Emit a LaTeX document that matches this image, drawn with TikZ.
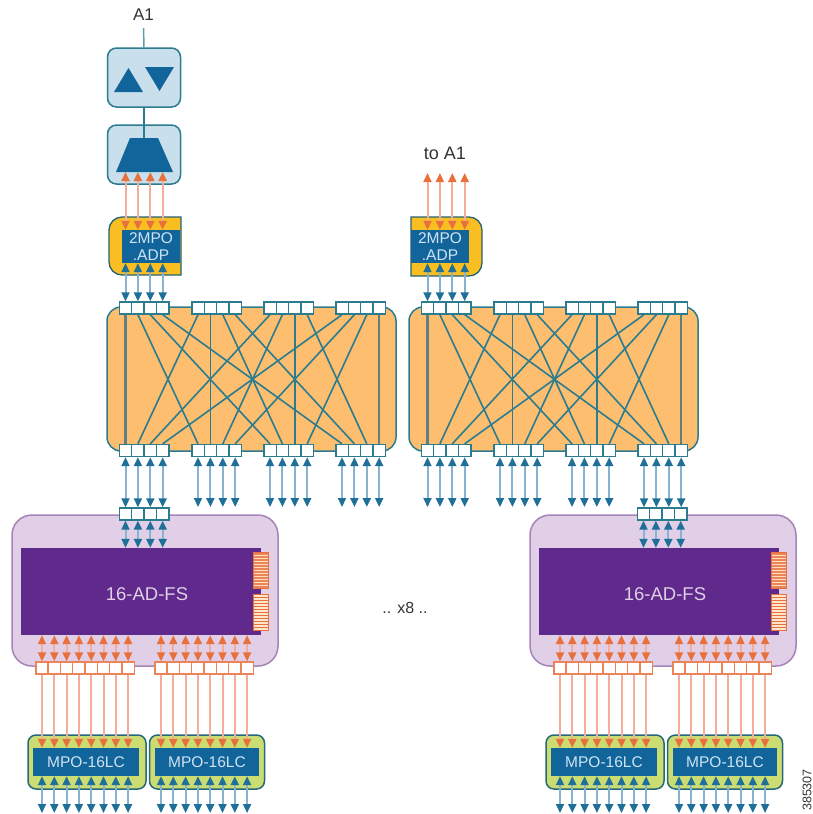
\documentclass[tikz,border=0pt]{standalone}
\usepackage{fontspec}
\setmainfont{Liberation Sans}
\usetikzlibrary{arrows.meta}
\definecolor{tealline}{HTML}{2B7C8F}
\definecolor{bluetip}{HTML}{1F6F98}
\definecolor{blueline}{HTML}{86B4CE}
\definecolor{orangetip}{HTML}{E8703C}
\definecolor{orangeline}{HTML}{F2AE9A}
\definecolor{muxfill}{HTML}{C9DFEB}
\definecolor{muxblue}{HTML}{12659B}
\definecolor{shufflefill}{HTML}{FDBE6F}
\definecolor{adpyellow}{HTML}{F9BE22}
\definecolor{fslight}{HTML}{E0CFE6}
\definecolor{fsborder}{HTML}{A584B8}
\definecolor{fsdark}{HTML}{5F2A8C}
\definecolor{mpogreen}{HTML}{CBDD72}
\definecolor{labelblue}{HTML}{CFE4F2}
\definecolor{textgray}{HTML}{333333}
\tikzset{
tipb/.tip={Triangle[length=9pt,width=8pt,color=bluetip]},
tipo/.tip={Triangle[length=9pt,width=8pt,color=orangetip]}}

\newcommand{\shufflebox}[1]{
\node[shufflebody] (#1body) at (251.5,379) {};
\foreach \g/\gx in {1/125.5,2/198,3/270,4/342} \foreach \p in {1,...,4} {
\node[bluecell] (#1top-\g-\p) at ({\gx+(\p-1)*12.4},308) {};
\node[bluecell] (#1bot-\g-\p) at ({\gx+(\p-1)*12.4},450.5) {};
}
\foreach \g in {1,...,4} \foreach \p in {1,...,4}
\draw[shuffleline] (#1top-\g-\p.south) -- (#1bot-\p-\g.north);
\foreach \g in {1,4}
\draw[shufflevert] (#1top-\g-\g.south) -- (#1bot-\g-\g.north);
}

\newcommand{\fsmodule}[1]{
\node[fsouter] (#1out) at (145,590.5) {};
\node[fsinner] (#1in) at (141,591.5) {};
\node[fslabel] (#1lab) at (147,594) {16-AD-FS};
\node[connhot] (#1conna) at (260.5,570) {};
\foreach \k in {1,...,11} \draw[color=orange!25,line width=.7pt] (253.5,{552+\k*3}) -- (267.5,{552+\k*3});
\node[conncold] (#1connb) at (260.5,612) {};
\foreach \k in {1,...,11} \draw[color=orangetip,line width=.7pt] (253.5,{594+\k*3}) -- (267.5,{594+\k*3});
\foreach \p in {1,...,4} {
\node[bluecell] (#1ptop-\p) at ({125.5+(\p-1)*12.4},514) {};
\draw[bluearrow] (#1ptop-\p.south) -- (#1ptop-\p.south |- #1in.north);
}
\node[mpobody,minimum width=118pt] (#1ma) at (87,762) {};
\node[mpobody,minimum width=115pt] (#1mb) at (207,762) {};
\node[mpolabel,minimum width=106pt] (#1mai) at (86,762) {MPO-16LC};
\node[mpolabel,minimum width=104pt] (#1mbi) at (207,762) {MPO-16LC};
\foreach \k/\start in {a/42,b/161} \foreach \p in {1,...,8} {
\node[orangecell] (#1c\k-\p) at ({\start+(\p-1)*12.3},668) {};
\draw[orangearrow] (#1c\k-\p.north) -- (#1c\k-\p.north |- #1in.south);
\draw[orangedown] (#1c\k-\p.south) -- (#1c\k-\p.south |- #1m\k i.north);
\draw[bluearrow] (#1c\k-\p.south |- #1m\k i.south) -- (#1c\k-\p.south |- botlim);
}
}

\begin{document}
\begin{tikzpicture}[x=1pt,y=-1pt,
muxbody/.style={draw=tealline,fill=muxfill,line width=1.5pt,rounded corners=9pt,minimum width=73pt,minimum height=59pt,inner sep=0pt},
shufflebody/.style={draw=tealline,fill=shufflefill,line width=1.5pt,rounded corners=14pt,minimum width=289pt,minimum height=144pt,inner sep=0pt},
bluecell/.style={draw=tealline,fill=white,line width=1.4pt,minimum width=12.4pt,minimum height=12pt,inner sep=0pt},
orangecell/.style={draw=orangetip!85,fill=white,line width=1.4pt,minimum width=12.3pt,minimum height=12pt,inner sep=0pt},
shuffleline/.style={color=tealline,line width=1.6pt},
shufflevert/.style={color=gray!75!teal,line width=2.4pt},
adpbody/.style={draw=tealline!80!black,fill=adpyellow,line width=1.3pt},
adplabel/.style={fill=muxblue,text=labelblue,align=center,inner sep=0pt,minimum width=58pt,minimum height=33pt,font=\fontsize{15.5}{17}\selectfont},
fsouter/.style={draw=fsborder,fill=fslight,line width=1.5pt,rounded corners=20pt,minimum width=266pt,minimum height=151pt,inner sep=0pt},
fsinner/.style={fill=fsdark,minimum width=240pt,minimum height=87pt,inner sep=0pt},
fslabel/.style={text=fslight,font=\fontsize{18.5}{20}\selectfont,inner sep=0pt},
connhot/.style={draw=orangetip,fill=orangetip!85,minimum width=15pt,minimum height=36pt,inner sep=0pt},
conncold/.style={draw=orangetip,fill=orange!20,minimum width=15pt,minimum height=36pt,inner sep=0pt},
mpobody/.style={draw=tealline!85!black,fill=mpogreen,line width=1.5pt,rounded corners=8pt,minimum height=54pt,inner sep=0pt},
mpolabel/.style={fill=muxblue,text=labelblue,minimum height=28pt,inner sep=0pt,font=\fontsize{15.5}{17}\selectfont},
bluearrow/.style={color=blueline,line width=2pt,tipb-tipb},
orangearrow/.style={color=orangeline,line width=2pt,tipo-tipo},
orangedown/.style={color=orangeline,line width=2pt,-tipo},
mainlabel/.style={text=textgray,font=\fontsize{16}{18}\selectfont,inner sep=0pt}]
\useasboundingbox (0,0) rectangle (813,814);
\coordinate (freelim) at (0,507);
\coordinate (toplim) at (0,173);
\coordinate (botlim) at (0,813);
\coordinate (traptop) at (144,138);
\coordinate (trapbot) at (144,172);

\node[mainlabel,font=\fontsize{17}{18}\selectfont] (a1) at (143.5,15) {A1};
\node[muxbody] (mux) at (144,77.5) {};
\node[muxbody] (demux) at (144,154.5) {};
\draw[color=tealline!75,line width=1.5pt] (a1.south) ++(0,7) -- (mux.north);
\fill[muxblue] (114,92) -- (128.5,68) -- (143,92) -- cycle;
\fill[muxblue] (145,67) -- (174,67) -- (159.5,91) -- cycle;
\fill[muxblue] (130,138) -- (158,138) -- (173,172) -- (116,172) -- cycle;
\draw[color=tealline,line width=1.5pt] (mux.south) -- (traptop);

\draw[adpbody] (181,246) [sharp corners] -- (181,217) -- (145,217) [rounded corners=13pt] -- (109,217) -- (109,275) -- (145,275) [sharp corners] -- (181,275) -- cycle;
\node[adplabel] (adpa) at (151,246.5) {2MPO\\.ADP};
\draw[adpbody] (411,246) [sharp corners] -- (411,217) -- (447,217) [rounded corners=13pt] -- (482,217) -- (482,276) -- (447,276) [sharp corners] -- (411,276) -- cycle;
\node[adplabel] (adpb) at (440,246.5) {2MPO\\.ADP};
\node[mainlabel,font=\fontsize{18}{20}\selectfont] (toa1) at (445,153) {to A1};

\shufflebox{sa}
\begin{scope}[xshift=302pt]
\shufflebox{sb}
\end{scope}

\fsmodule{fa}
\begin{scope}[xshift=518pt]
\fsmodule{fb}
\end{scope}

% links between the blocks
\foreach \p in {1,...,4} {
\draw[orangearrow] (satop-1-\p.north |- trapbot) -- (satop-1-\p.north |- adpa.north);
\draw[orangearrow] (sbtop-1-\p.north |- adpb.north) -- (sbtop-1-\p.north |- toplim);
\draw[bluearrow] (satop-1-\p.north) -- (satop-1-\p.north |- adpa.south);
\draw[bluearrow] (sbtop-1-\p.north) -- (sbtop-1-\p.north |- adpb.south);
\draw[bluearrow] (sabot-1-\p.south) -- (sabot-1-\p.south |- faptop-\p.north);
\draw[bluearrow] (sbbot-4-\p.south) -- (sbbot-4-\p.south |- fbptop-\p.north);
}
\foreach \g in {2,3,4} \foreach \p in {1,...,4}
\draw[bluearrow] (sabot-\g-\p.south) -- (sabot-\g-\p.south |- freelim);
\foreach \g in {1,2,3} \foreach \p in {1,...,4}
\draw[bluearrow] (sbbot-\g-\p.south) -- (sbbot-\g-\p.south |- freelim);

\node[mainlabel] (times) at (405,608) {.. x8 ..};
\node[rotate=90,text=textgray,font=\fontsize{12.5}{13}\selectfont,inner sep=0pt] (figid) at (807,790) {385307};
\end{tikzpicture}
\end{document}
